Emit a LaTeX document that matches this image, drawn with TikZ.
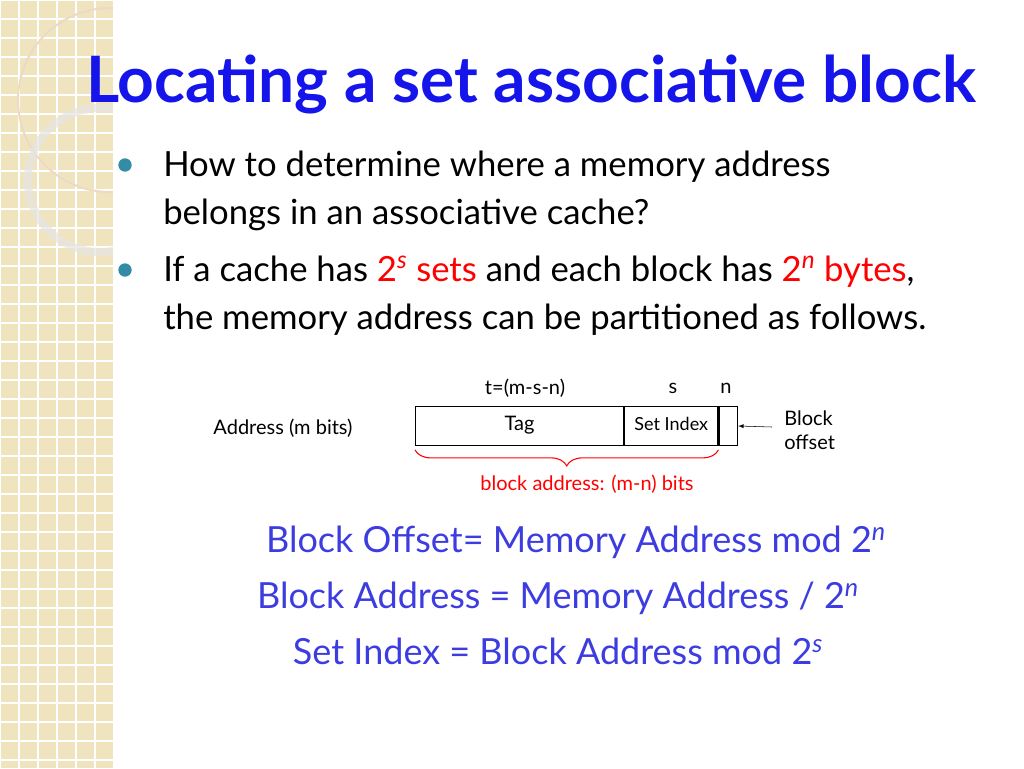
\documentclass[tikz,border=0pt]{standalone}
\usepackage{fontspec}
\setmainfont{Lato}
\usetikzlibrary{positioning,decorations.pathreplacing}
\definecolor{strip}{RGB}{240,228,190}
\definecolor{titleblue}{RGB}{20,20,235}
\definecolor{formblue}{RGB}{60,60,225}
\definecolor{dotblue}{RGB}{50,140,165}
\begin{document}
\begin{tikzpicture}[x=0.75pt,y=-0.75pt,
  body/.style={anchor=base west, inner sep=0pt, font=\fontsize{26}{30}\selectfont},
  small/.style={inner sep=0pt, font=\fontsize{15}{18}\selectfont},
  formula/.style={inner sep=0pt, text=formblue, font=\fontsize{27}{32}\selectfont},
  field/.style={draw, thick, minimum height=29pt, inner sep=0pt, anchor=west, text height=7.5pt, text depth=1.5pt},
  bullet/.style={circle, fill=dotblue, minimum size=10pt, inner sep=0pt}]
\useasboundingbox (0,0) rectangle (1024,768);
% left strip with grid and rings
\fill[strip] (0,0) rectangle (113,768);
\foreach \i in {0,...,6} \draw[white, line width=1pt] (\i*19,0) -- (\i*19,768);
\foreach \j in {0,...,41} \draw[white, line width=1pt] (0,\j*19) -- (113,\j*19);
\begin{scope}
\clip (0,0) rectangle (113,768);
\draw[white!70!brown, line width=1.5pt] (110,100) circle[radius=92];
\draw[white!80!gray, line width=6pt, opacity=0.7] (100,180) circle[radius=72];
\end{scope}
% title
\node[anchor=base west, inner sep=0pt, text=titleblue, font=\fontsize{48}{54}\selectfont\bfseries] (title) at (86,102) {Locating a set associative block};
% bullets
\node[bullet] (b1) at (125,165) {};
\node[bullet] (b2) at (125,270) {};
\node[body] (l1) at (163,176) {How to determine where a memory address};
\node[body] (l2) at (163,224) {belongs in an associative cache?};
\node[body] (l3) at (163,281) {If a cache has \textcolor{red}{2\textsuperscript{\itshape s} sets} and each block has \textcolor{red}{2\textsuperscript{\itshape n} bytes},};
\node[body] (l4) at (163,329) {the memory address can be partitioned as follows.};
% address fields
\node[field, minimum width=156pt] (tag) at (415,426) {\fontsize{15}{18}\selectfont Tag};
\node[field, minimum width=70pt, right=0pt of tag] (set) {\fontsize{13.5}{16}\selectfont Set Index};
\node[field, minimum width=14pt, right=0pt of set] (off) {};
\node[small] (tlab) at (525,388) {t=(m-s-n)};
\node[small] (slab) at (673,388) {s};
\node[small] (nlab) at (726,388) {n};
\node[small] (addr) at (283,428) {Address (m bits)};
\node[small, anchor=west, align=left] (boff) at (784,430) {Block\\offset};
\draw[-latex] (boff.west) ++(-12,-3) coordinate (arr) -- (off.east);
\draw[red, thick, decorate, decoration={brace, mirror, amplitude=12pt}] ([yshift=-3pt]tag.south west) -- ([yshift=-3pt]set.south east);
\node[small, text=red] (blab) at (587,484) {block address: (m-n) bits};
% formulas
\node[formula] (f1) at (576,542) {Block Offset= Memory Address mod 2\textsuperscript{\itshape n}};
\node[formula] (f2) at (558,598) {Block Address = Memory Address / 2\textsuperscript{\itshape n}};
\node[formula] (f3) at (558,651) {Set Index = Block Address mod 2\textsuperscript{\itshape s}};
\end{tikzpicture}
\end{document}
